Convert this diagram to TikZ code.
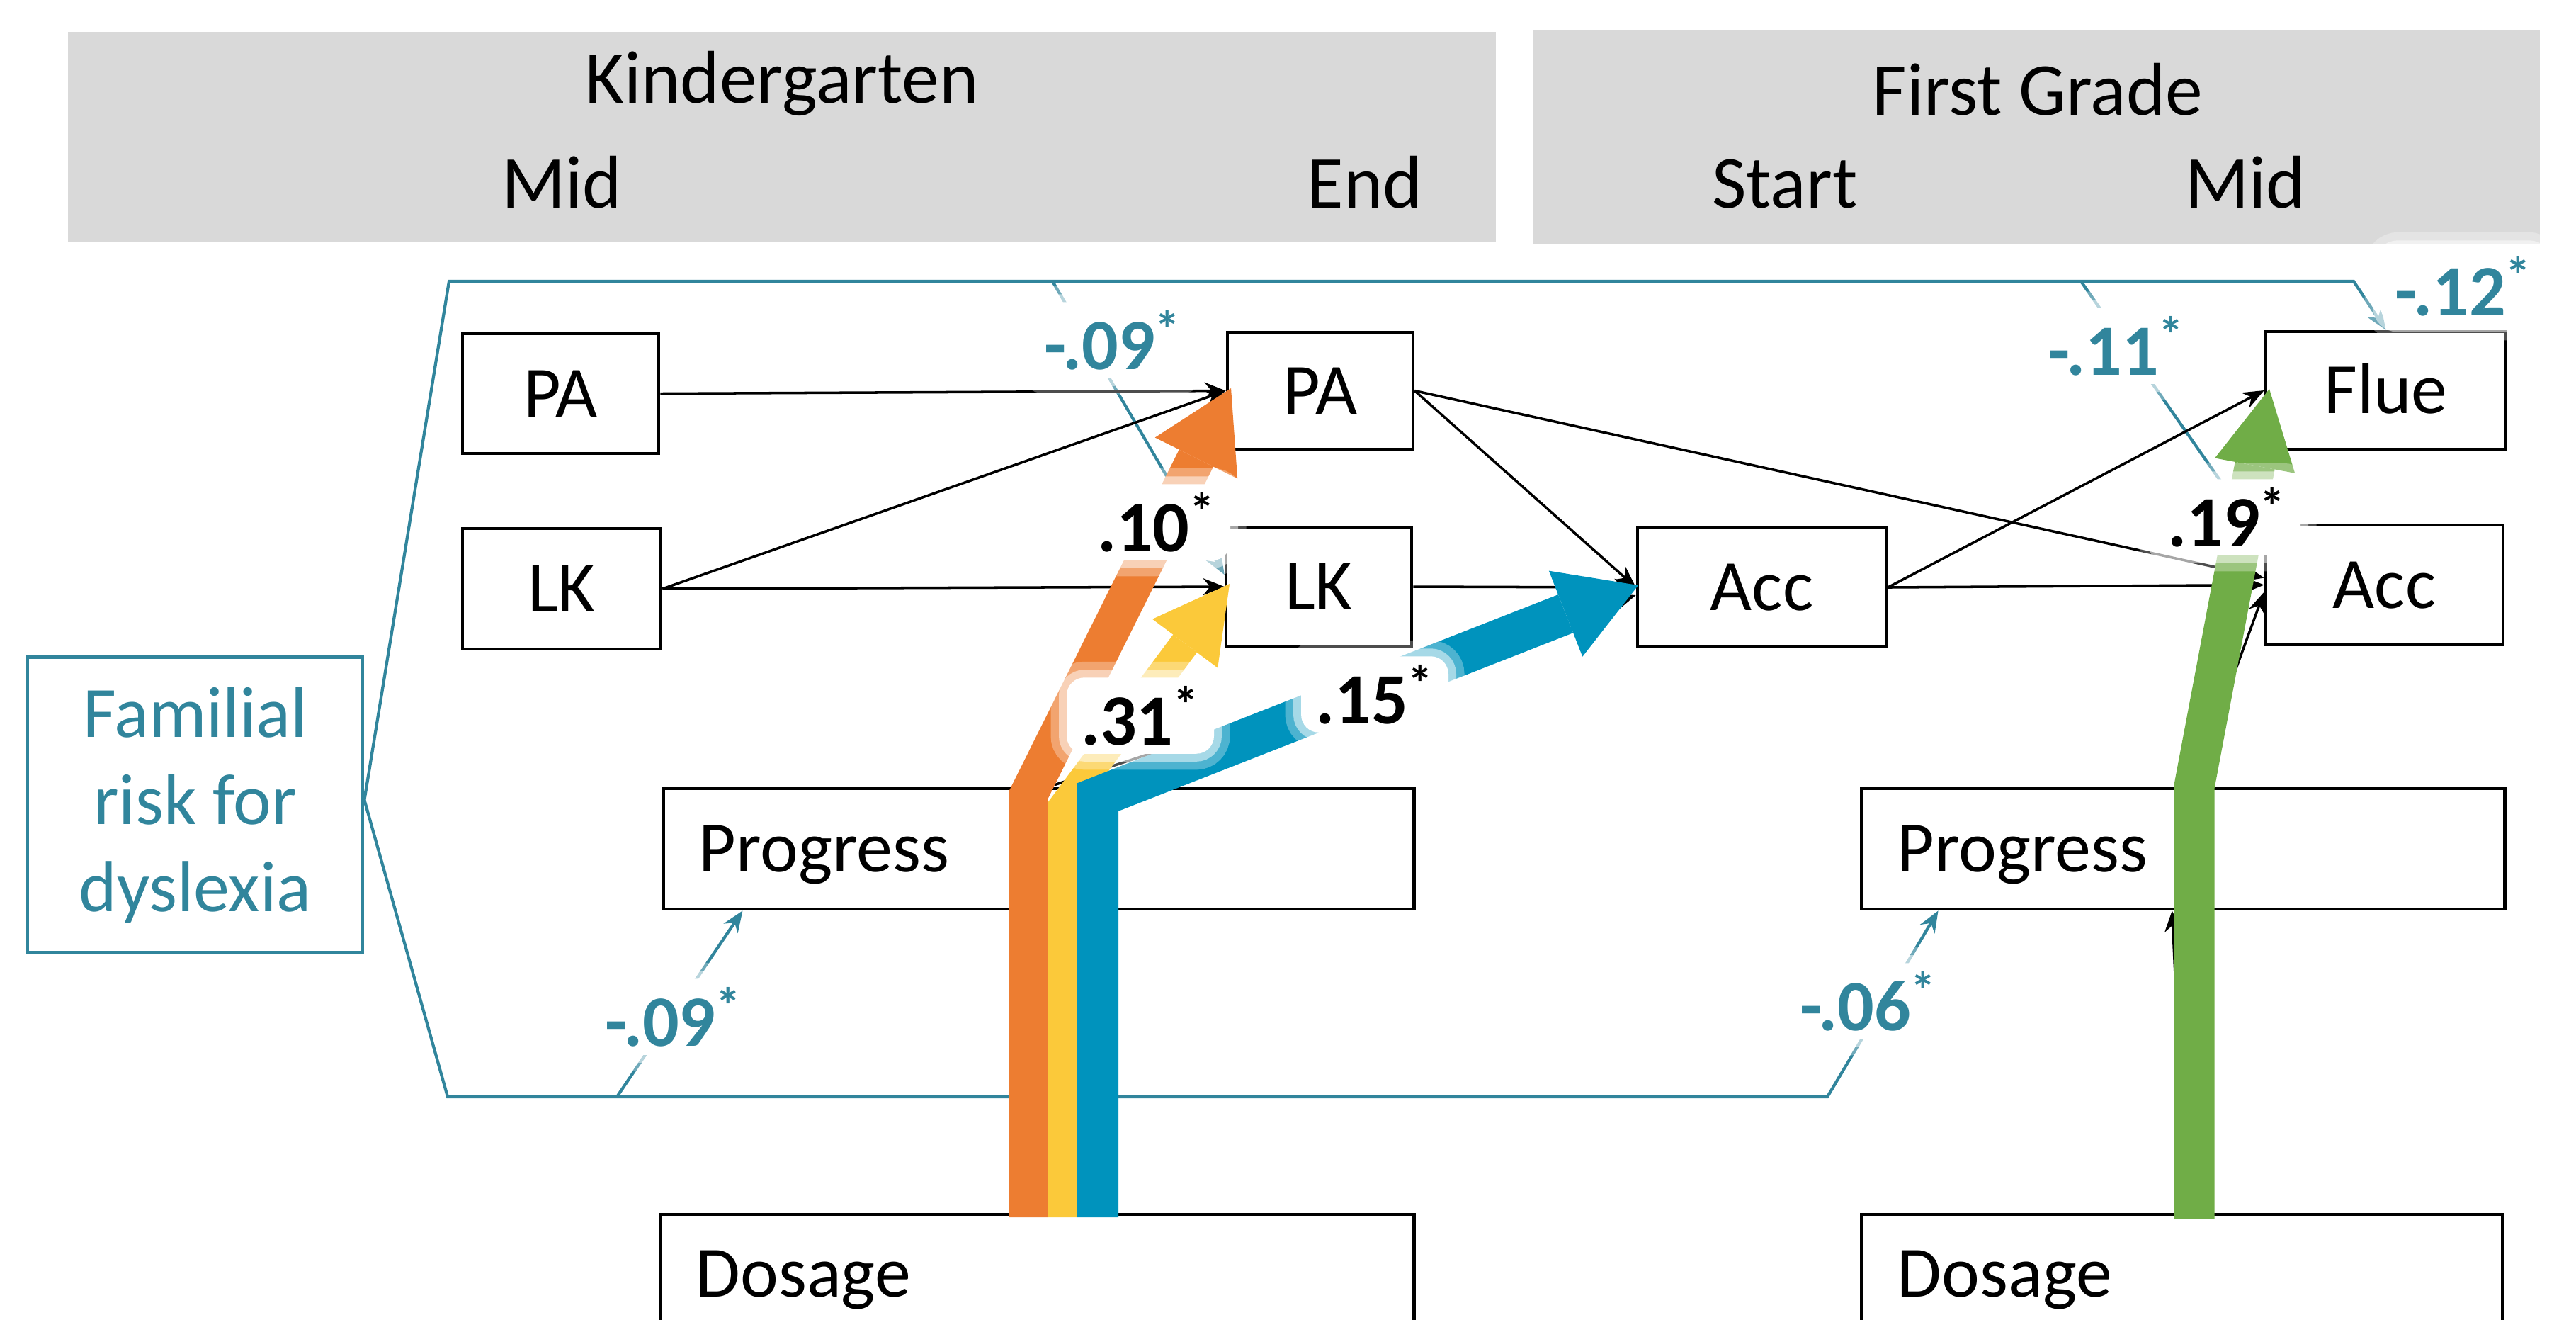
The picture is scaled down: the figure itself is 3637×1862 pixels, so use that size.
\documentclass[tikz,border=0pt]{standalone}
\usepackage{fontspec}
\setmainfont{Carlito}
\usetikzlibrary{arrows.meta}
\definecolor{teal5}{HTML}{31859C}
\definecolor{hdrgray}{HTML}{D9D9D9}
\definecolor{orng}{HTML}{ED7D31}
\definecolor{yllw}{HTML}{FBC93A}
\definecolor{blu}{HTML}{0093BD}
\definecolor{grn}{HTML}{70AD47}
\begin{document}
\begin{tikzpicture}[x=0.01cm,y=-0.01cm,
  hdr/.style={fill=hdrgray, draw=none, inner sep=0pt},
  hdrtxt/.style={font=\fontsize{30}{36}\selectfont, anchor=base, inner sep=0pt},
  box/.style={draw=black, line width=1.3pt, fill=white, font=\fontsize{29}{35}\selectfont, text height=18.7pt, text depth=0pt, inner sep=0pt},
  wbox/.style={box, inner xsep=0.5cm, align=left},
  blk/.style={draw=black, line width=1pt, -{Stealth[length=0.3cm,width=0.24cm]}},
  tl/.style={draw=teal5, line width=1.2pt},
  tla/.style={tl, -{Stealth[length=0.3cm,width=0.24cm]}},
  lbl/.style={fill=white, rounded corners=0.25cm, inner xsep=0.2cm, inner ysep=0.12cm,
     preaction={draw=white, draw opacity=0.3, line width=0.45cm},
     preaction={draw=white, draw opacity=0.5, line width=0.22cm},
     font=\bfseries\fontsize{29}{35}\selectfont},
  tlbl/.style={lbl, text=teal5},
  band/.style={line width=#1, line join=miter, line cap=butt}
]
\useasboundingbox (0,0) rectangle (3637,1862);

% headers
\node[hdr, minimum width=20.14cm, minimum height=2.96cm] (hK) at (1104,193) {};
\node[hdr, minimum width=14.22cm, minimum height=3.03cm] (hF) at (2875,193.5) {};
\node[hdrtxt] (tK) at (1104,145) {Kindergarten};
\node[hdrtxt] (tKm) at (793,293) {Mid};
\node[hdrtxt] (tKe) at (1927,293) {End};
\node[hdrtxt] (tF) at (2877,162) {First Grade};
\node[hdrtxt] (tFs) at (2520,293) {Start};
\node[hdrtxt] (tFm) at (3170,293) {Mid};

% familial risk box
\node[draw=teal5, line width=1.3pt, fill=white, text=teal5, align=center,
  minimum width=4.73cm, minimum height=4.17cm, inner sep=0pt,
  font=\fontsize{29}{35}\selectfont] (fam) at (275.5,1136) {Familial\\risk for\\dyslexia};

% boxes
\node[box, minimum width=2.77cm, minimum height=1.69cm] (paL) at (791.5,555.5) {PA};
\node[box, minimum width=2.80cm, minimum height=1.70cm] (lkL) at (793,831) {LK};
\node[box, minimum width=2.62cm, minimum height=1.65cm] (paE) at (1864,551.5) {PA};
\node[box, minimum width=2.62cm, minimum height=1.68cm] (lkE) at (1862,828) {LK};
\node[box, minimum width=3.51cm, minimum height=1.68cm] (accS) at (2487.5,829) {Acc};
\node[box, minimum width=3.39cm, minimum height=1.66cm] (flue) at (3368.5,551) {Flue};
\node[box, minimum width=3.35cm, minimum height=1.69cm] (accM) at (3366.5,825.5) {Acc};
\node[wbox, text width=9.59cm, minimum height=1.70cm] (progL) at (1466.5,1198) {Progress};
\node[wbox, text width=8.07cm, minimum height=1.70cm] (progR) at (3082.5,1198) {Progress};
\node[wbox, text width=9.63cm, minimum height=1.68cm] (dosL) at (1464.5,1798) {Dosage};
\node[wbox, text width=8.04cm, minimum height=1.68cm] (dosR) at (3081,1798) {Dosage};

% teal paths
\coordinate (tTL) at (634,397);
\coordinate (tTR) at (3323,397);
\coordinate (tBL) at (632,1548);
\coordinate (tBR) at (2580,1548);
\coordinate (bT1) at (1486,397);
\coordinate (bT2) at (2938,397);
\coordinate (bB1) at (871,1548);
\draw[tla] (fam.east |- 0,1129) -- (tTL) -- (tTR) -- (flue.north);
\draw[tla] (fam.east |- 0,1129) -- (tBL) -- (tBR) -- ([xshift=1.1cm]progR.south west);
\draw[tla] (bT1) -- ([yshift=0.17cm]lkE.west);
\draw[tla] (bT2) -- ([yshift=0.585cm]accM.west);
\draw[tla] (bB1) -- ([xshift=1.14cm]progL.south west);

% black arrows
\draw[blk] (paL.east) -- (paE.west);
\draw[blk] (lkL.east) -- (paE.west);
\draw[blk] (lkL.east) -- (lkE.west);
\draw[blk] (paE.east) -- (accS.west);
\draw[blk] (paE.east) -- ([yshift=0.1cm]accM.west);
\draw[blk] (lkE.east) -- (accS.west);
\draw[blk] (accS.east) -- (flue.west);
\draw[blk] (accS.east) -- (accM.west);
\draw[blk] ([xshift=5.45cm]progL.north west) -- ([yshift=-0.11cm]accS.west);
\draw[blk] ([xshift=4.69cm]progR.north west) -- ([yshift=-0.1cm]accM.west);
\draw[blk] ([xshift=4.6cm]dosR.north west) -- ([xshift=4.4cm]progR.south west);

% coloured bands
\draw[band=0.54cm, draw=orng, -{Triangle[width=1.3cm,length=1.1cm,line width=0pt]}] (1452,1718) -- (1452,1122) -- (1738,548);
\draw[band=0.42cm, draw=yllw, -{Triangle[width=1.15cm,length=1.05cm,line width=0pt]}] (1500,1718) -- (1500,1140) -- (1736,824);
\draw[band=0.58cm, draw=blu, -{Triangle[width=1.3cm,length=1.1cm,line width=0pt]}] (1550,1718) -- (1550,1125) -- (2313,826);
\draw[band=0.57cm, draw=grn, -{Triangle[width=1.15cm,length=1.1cm,line width=0pt]}] (3098,1720) -- (3098,1110) -- (3204,549);

% labels
\node[lbl] (l10) at (1633,737) {.10\textsuperscript{*}};
\node[lbl] (l31) at (1610,1010) {.31\textsuperscript{*}};
\node[lbl] (l15) at (1941,980) {.15\textsuperscript{*}};
\node[lbl] (l19) at (3144,730) {.19\textsuperscript{*}};
\node[tlbl] (m09a) at (1571,480) {-.09\textsuperscript{*}};
\node[tlbl] (m11) at (2988,488) {-.11\textsuperscript{*}};
\node[tlbl] (m12) at (3478,404) {-.12\textsuperscript{*}};
\node[tlbl] (m09b) at (951,1435) {-.09\textsuperscript{*}};
\node[tlbl] (m06) at (2638,1413) {-.06\textsuperscript{*}};
\end{tikzpicture}
\end{document}
